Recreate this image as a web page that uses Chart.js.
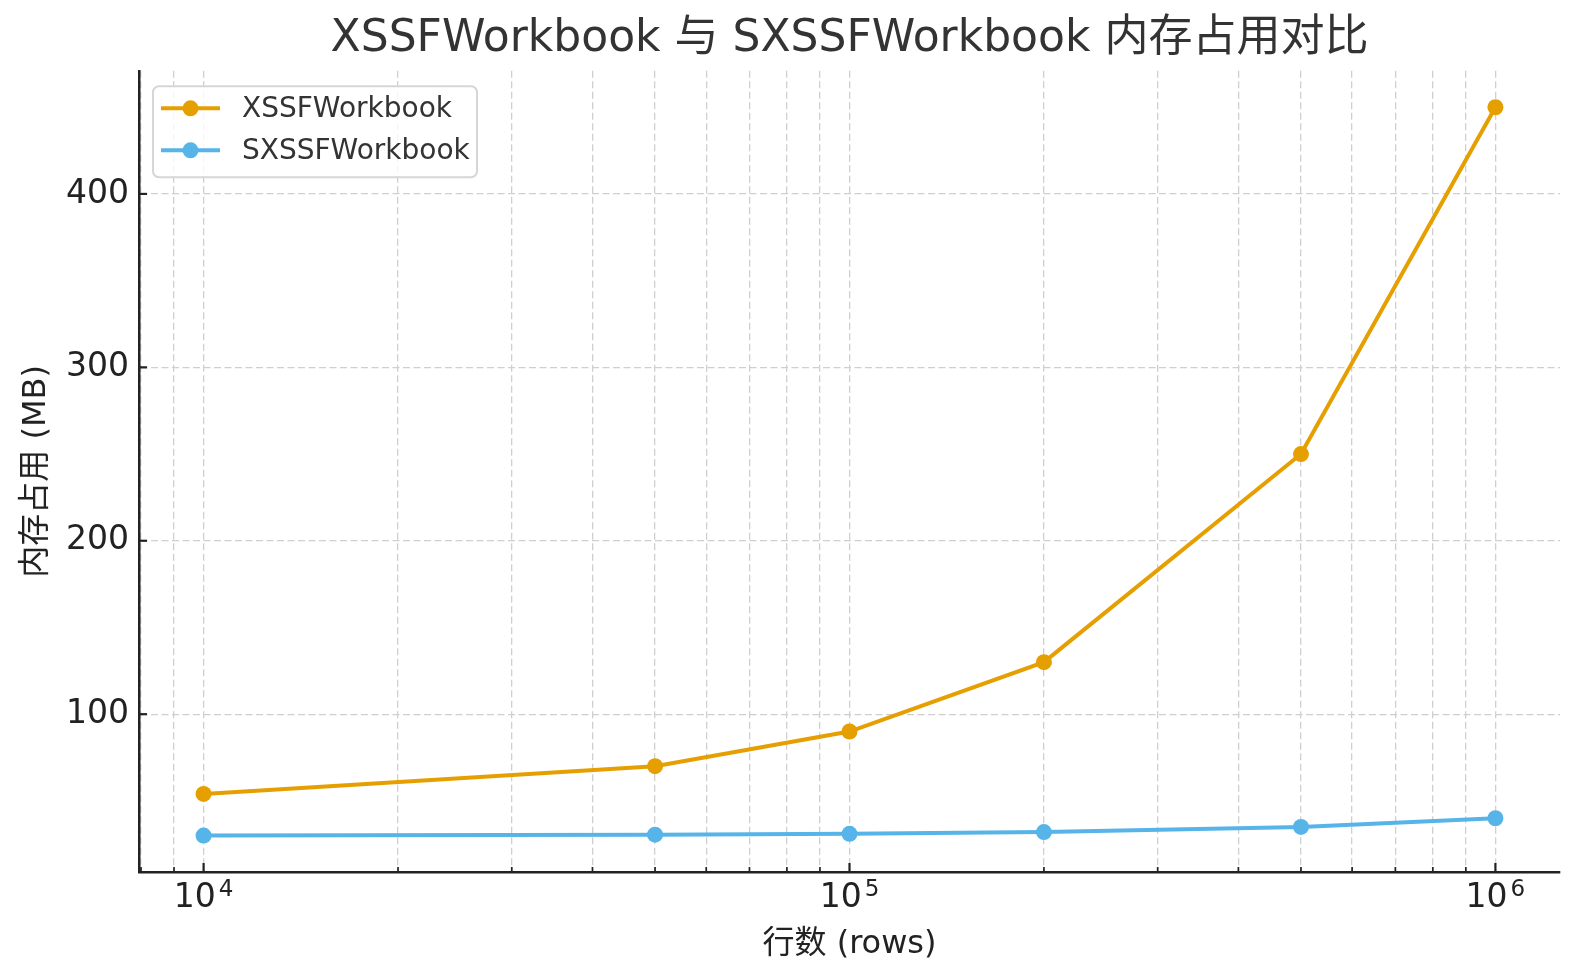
<!DOCTYPE html>
<html>
<head>
<meta charset="utf-8">
<script src="https://cdn.jsdelivr.net/npm/chart.js@4/dist/chart.umd.min.js"></script>
<style>
  html, body { margin: 0; padding: 0; background: #ffffff; }
  #wrap { width: 1580px; height: 980px; }
</style>
</head>
<body>
<div id="wrap"><canvas id="c" width="1580" height="980"></canvas></div>
<script>
// ---- data ----
const rows = [10000, 50000, 100000, 200000, 500000, 1000000];
const xssfMemoryMB = [54, 70, 90, 130, 250, 450];
const sxssfMemoryMB = [30, 30.5, 31, 32, 35, 40];
const seriesNames = ['XSSFWorkbook', 'SXSSFWorkbook'];
const seriesColors = ['#E69F00', '#56B4E9'];
const xTickValues = [8000, 9000,
  10000, 20000, 30000, 40000, 50000, 60000, 70000, 80000, 90000,
  100000, 200000, 300000, 400000, 500000, 600000, 700000, 800000, 900000,
  1000000];
const xMajorTicks = [10000, 100000, 1000000];
const xMajorBase = ['10', '10', '10'];
const xMajorExponents = ['4', '5', '6'];
const yTickValues = [100, 200, 300, 400];
const titleText = 'XSSFWorkbook 与 SXSSFWorkbook 内存占用对比';
const xTitleText = '行数 (rows)';
const yTitleText = '内存占用 (MB)';

const FONT = "'DejaVu Sans', 'Noto Sans CJK SC', sans-serif";

function toPoints(xs, ys) { return xs.map((x, i) => ({ x: x, y: ys[i] })); }

// inside tick marks + superscript x labels
const axisDecor = {
  id: 'axisDecor',
  afterDraw(chart) {
    const ctx = chart.ctx;
    const xs = chart.scales.x, ys = chart.scales.y;
    const a = chart.chartArea;
    ctx.save();
    ctx.strokeStyle = '#222';
    xs.ticks.forEach(t => {
      const px = xs.getPixelForValue(t.value);
      if (px < a.left + 1 || px > a.right) return;
      const major = xMajorTicks.includes(t.value);
      ctx.lineWidth = major ? 2.2 : 1.7;
      ctx.beginPath();
      ctx.moveTo(px, a.bottom);
      ctx.lineTo(px, a.bottom - (major ? 9 : 5));
      ctx.stroke();
    });
    ys.ticks.forEach(t => {
      const py = ys.getPixelForValue(t.value);
      ctx.lineWidth = 2.2;
      ctx.beginPath();
      ctx.moveTo(a.left, py);
      ctx.lineTo(a.left + 8, py);
      ctx.stroke();
    });
    ctx.fillStyle = '#222';
    ctx.textBaseline = 'alphabetic';
    ctx.textAlign = 'left';
    xMajorTicks.forEach((v, i) => {
      const px = xs.getPixelForValue(v);
      ctx.font = '33px ' + FONT;
      const w1 = ctx.measureText(xMajorBase[i]).width;
      ctx.font = '23px ' + FONT;
      const w2 = ctx.measureText(xMajorExponents[i]).width;
      const gap = 3;
      const start = px - (w1 + gap + w2) / 2;
      ctx.font = '33px ' + FONT;
      ctx.fillText(xMajorBase[i], start, a.bottom + 35);
      ctx.font = '23px ' + FONT;
      ctx.fillText(xMajorExponents[i], start + w1 + gap, a.bottom + 24);
    });
    ctx.restore();
  }
};

// framed legend inside the plot
const boxLegend = {
  id: 'boxLegend',
  afterDatasetsDraw(chart) {
    const ctx = chart.ctx;
    const a = chart.chartArea;
    const x0 = a.left + 14, y0 = a.top + 15.5, w = 324, h = 91, r = 6;
    ctx.save();
    ctx.beginPath();
    ctx.moveTo(x0 + r, y0);
    ctx.arcTo(x0 + w, y0, x0 + w, y0 + h, r);
    ctx.arcTo(x0 + w, y0 + h, x0, y0 + h, r);
    ctx.arcTo(x0, y0 + h, x0, y0, r);
    ctx.arcTo(x0, y0, x0 + w, y0, r);
    ctx.closePath();
    ctx.fillStyle = 'rgba(255,255,255,0.8)';
    ctx.fill();
    ctx.strokeStyle = '#d6d6d6';
    ctx.lineWidth = 2;
    ctx.stroke();
    chart.data.datasets.forEach((ds, i) => {
      const cy = y0 + 22 + i * 42;
      ctx.strokeStyle = ds.borderColor;
      ctx.lineWidth = 4;
      ctx.beginPath();
      ctx.moveTo(x0 + 8, cy);
      ctx.lineTo(x0 + 67, cy);
      ctx.stroke();
      ctx.fillStyle = ds.pointBackgroundColor;
      ctx.beginPath();
      ctx.arc(x0 + 37.5, cy, 8, 0, Math.PI * 2);
      ctx.fill();
      ctx.fillStyle = '#333';
      ctx.font = '28px ' + FONT;
      ctx.textBaseline = 'middle';
      ctx.textAlign = 'left';
      ctx.fillText(ds.label, x0 + 89, cy + 1);
    });
    ctx.restore();
  }
};

const gridCommon = { color: '#cfcfcf', lineWidth: 1.3, drawTicks: false };
const borderCommon = { display: true, color: '#222', width: 2.5, dash: [7, 3.5] };

new Chart(document.getElementById('c'), {
  type: 'line',
  data: {
    datasets: [
      {
        label: seriesNames[0],
        data: toPoints(rows, xssfMemoryMB),
        borderColor: seriesColors[0],
        backgroundColor: seriesColors[0],
        pointBackgroundColor: seriesColors[0],
        pointBorderWidth: 0,
        pointRadius: 8,
        borderWidth: 4,
        tension: 0,
        fill: false
      },
      {
        label: seriesNames[1],
        data: toPoints(rows, sxssfMemoryMB),
        borderColor: seriesColors[1],
        backgroundColor: seriesColors[1],
        pointBackgroundColor: seriesColors[1],
        pointBorderWidth: 0,
        pointRadius: 8,
        borderWidth: 4,
        tension: 0,
        fill: false
      }
    ]
  },
  options: {
    responsive: false,
    animation: false,
    devicePixelRatio: 1,
    layout: { padding: { top: 0, left: 13, right: 20, bottom: 12 } },
    plugins: {
      legend: { display: false },
      tooltip: { enabled: false },
      title: {
        display: true,
        text: titleText,
        fullSize: false,
        color: '#333',
        font: { family: FONT, size: 44, weight: 'normal' },
        padding: { top: 13, bottom: 5 }
      }
    },
    scales: {
      x: {
        type: 'logarithmic',
        min: Math.pow(10, 3.9),
        max: Math.pow(10, 6.1),
        afterBuildTicks: s => { s.ticks = xTickValues.map(v => ({ value: v, major: xMajorTicks.includes(v) })); },
        afterFit: s => { s.height = 96; },
        ticks: { display: false, autoSkip: false },
        grid: gridCommon,
        border: borderCommon,
        title: {
          display: true, text: xTitleText, color: '#222',
          font: { family: FONT, size: 32 }, padding: { top: 4, bottom: 4 }
        }
      },
      y: {
        type: 'linear',
        min: 9,
        max: 471,
        afterBuildTicks: s => { s.ticks = yTickValues.map(v => ({ value: v })); },
        afterFit: s => { s.width = 126; },
        ticks: { color: '#222', font: { family: FONT, size: 33 }, padding: 10 },
        grid: gridCommon,
        border: borderCommon,
        title: {
          display: true, text: yTitleText, color: '#222',
          font: { family: FONT, size: 32 }, padding: { top: 4, bottom: 4 }
        }
      }
    }
  },
  plugins: [boxLegend, axisDecor]
});
</script>
</body>
</html>
